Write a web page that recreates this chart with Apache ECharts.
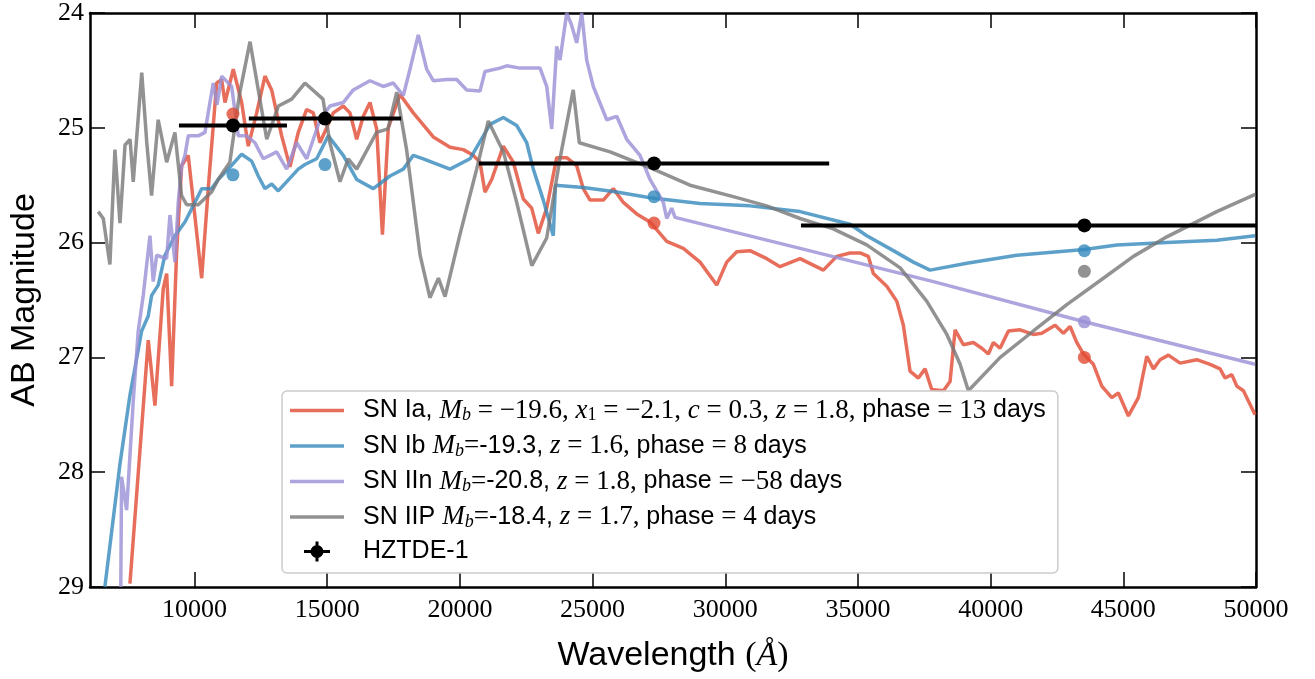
<!DOCTYPE html>
<html>
<head>
<meta charset="utf-8">
<script src="https://cdn.jsdelivr.net/npm/echarts@6/dist/echarts.min.js"></script>
<style>
  html, body { margin: 0; padding: 0; background: #fff; }
  #main { width: 1315px; height: 679px; }
</style>
</head>
<body>
<div id="main"></div>
<script>
// wavelength (Angstrom) and AB magnitude
var iaWave = [7565, 8255, 8507, 8820, 8950, 9137, 9325, 9514, 9763, 10268,
  10516, 10833, 11021, 11146, 11459, 11775, 12024, 12341, 12653, 12906,
  13283, 13596, 13908, 14225, 14474, 14726, 15228, 15604, 15857, 16110,
  16358, 16611, 16863, 17080, 17300, 17742, 18243, 18997, 19626, 20127,
  20504, 20757, 20945, 21198, 21635, 22012, 22389, 22705, 22954, 23271,
  23648, 24025, 24401, 24650, 24903, 25404, 25781, 26158, 26663, 27164,
  27794, 28419, 29049, 29678, 30055, 30432, 30933, 31563, 32064, 32818,
  33696, 34201, 34702, 35079, 35392, 35580, 36085, 36462, 36711, 36963,
  37276, 37529, 37781, 38219, 38471, 38660, 38972, 39349, 39666, 39915,
  40103, 40356, 40669, 41109, 41611, 41927, 42429, 42741, 42994, 43246,
  43495, 43872, 44189, 44565, 44814, 45191, 45568, 45885, 46133, 46386,
  46699, 47140, 47769, 48270, 48647, 48836, 49088, 49277, 49526, 49966];
var iaMag = [28.97, 26.85, 27.42, 26.40, 26.27, 27.25, 26.08, 25.33, 25.24, 26.31,
  25.53, 24.61, 24.58, 24.78, 24.49, 24.78, 25.16, 24.87, 24.55, 24.67,
  25.07, 25.34, 25.04, 24.84, 24.87, 25.13, 24.87, 24.81, 24.87, 25.10,
  24.90, 24.78, 25.01, 25.93, 25.00, 24.71, 24.87, 25.08, 25.17, 25.19,
  25.24, 25.30, 25.56, 25.45, 25.16, 25.30, 25.62, 25.70, 25.92, 25.70,
  25.26, 25.26, 25.33, 25.53, 25.63, 25.63, 25.53, 25.65, 25.75, 25.82,
  25.99, 26.05, 26.17, 26.37, 26.17, 26.08, 26.07, 26.14, 26.21, 26.14,
  26.24, 26.12, 26.09, 26.09, 26.12, 26.27, 26.38, 26.51, 26.72, 27.12,
  27.18, 27.10, 27.28, 27.29, 27.21, 26.76, 26.89, 26.87, 26.92, 26.97,
  26.87, 26.92, 26.77, 26.76, 26.80, 26.79, 26.72, 26.79, 26.73, 26.87,
  26.97, 27.06, 27.25, 27.35, 27.31, 27.51, 27.35, 26.99, 27.10, 27.02,
  26.98, 27.05, 27.02, 27.06, 27.10, 27.18, 27.15, 27.25, 27.29, 27.50];

var ibWave = [6620, 7188, 7565, 7850, 8006, 8255, 8383, 8632, 8884, 9261,
  9638, 10015, 10268, 10644, 10893, 11270, 11775, 12152, 12401, 12653,
  12906, 13155, 13908, 14161, 14602, 15039, 15604, 16110, 16735, 17365,
  17866, 18243, 18620, 19626, 20380, 21134, 21635, 22140, 22517, 22766,
  23142, 23519, 23600, 24650, 25909, 27164, 29049, 30933, 32818, 34702,
  35332, 36334, 37088, 37717, 39101, 40985, 43532, 44754, 46638, 48523, 49966];
var ibMag = [29.0, 27.93, 27.33, 26.97, 26.77, 26.64, 26.46, 26.37, 26.11, 25.94,
  25.82, 25.65, 25.53, 25.53, 25.45, 25.36, 25.23, 25.29, 25.42, 25.53,
  25.49, 25.55, 25.36, 25.32, 25.27, 25.07, 25.24, 25.45, 25.53, 25.42,
  25.36, 25.24, 25.27, 25.36, 25.27, 24.97, 24.91, 24.98, 25.13, 25.36,
  25.63, 25.94, 25.50, 25.52, 25.56, 25.61, 25.66, 25.68, 25.73, 25.84,
  25.94, 26.07, 26.17, 26.24, 26.18, 26.11, 26.06, 26.02, 26.00, 25.98, 25.94];

var iinWave = [7220, 7250, 7440, 7690, 7878, 8066, 8319, 8443, 8572, 8948,
  9073, 9261, 9386, 9514, 9638, 9763, 10139, 10392, 10580, 10705,
  10850, 11021, 11398, 11647, 11964, 12276, 12589, 13094, 13471, 13848,
  14225, 14726, 15103, 15604, 15981, 16611, 17112, 17489, 17866, 18118,
  18431, 18748, 18997, 19502, 19879, 20256, 20757, 20945, 21510, 21763,
  22264, 23018, 23271, 23459, 23648, 23772, 24025, 24200, 24401, 24590,
  24778, 25027, 25532, 25909, 26286, 26787, 27164, 27665, 27794, 27982,
  28106, 32818, 37842, 43532, 49966];
var iinMag = [29.0, 28.04, 28.33, 27.38, 26.77, 26.46, 25.94, 26.34, 26.11, 26.14,
  25.76, 26.17, 25.65, 25.33, 25.24, 25.07, 25.07, 25.04, 24.78, 24.61,
  24.80, 24.55, 24.64, 25.07, 25.07, 25.13, 25.27, 25.21, 25.36, 25.13,
  25.27, 24.93, 24.81, 24.78, 24.67, 24.59, 24.64, 24.61, 24.72, 24.49,
  24.19, 24.49, 24.59, 24.58, 24.58, 24.67, 24.68, 24.51, 24.48, 24.46,
  24.48, 24.48, 24.64, 25.01, 24.29, 24.41, 24.00, 24.10, 24.26, 24.00,
  24.41, 24.64, 24.93, 24.90, 25.10, 25.24, 25.45, 25.65, 25.79, 25.70,
  25.78, 26.05, 26.34, 26.69, 27.06];

var iipWave = [6370, 6560, 6810, 7000, 7190, 7380, 7570, 7690, 8010, 8200,
  8380, 8630, 8950, 9260, 9510, 9700, 10140, 10640, 10890, 11330,
  11700, 12090, 12720, 13160, 13660, 14160, 14840, 15100, 15480, 15790,
  16110, 16860, 17290, 17620, 17990, 18500, 18870, 19190, 19440, 20000,
  20630, 21070, 21640, 22140, 22710, 23270, 23770, 24270, 24500, 25660,
  27290, 28670, 30300, 31560, 32820, 34070, 35330, 36590, 37590, 38350,
  38850, 39160, 40360, 41610, 42870, 44130, 45380, 46640, 48520, 49970];
var iipMag = [25.73, 25.79, 26.19, 25.19, 25.83, 25.15, 25.10, 25.47, 24.52, 25.13,
  25.59, 24.93, 25.30, 25.04, 25.59, 25.67, 25.67, 25.56, 25.45, 25.30,
  24.70, 24.25, 25.10, 24.81, 24.75, 24.61, 24.75, 25.13, 25.47, 25.27,
  25.36, 25.04, 25.01, 24.69, 25.19, 26.11, 26.48, 26.31, 26.47, 25.93,
  25.36, 24.94, 25.21, 25.65, 26.20, 25.96, 25.27, 24.67, 25.13, 25.21,
  25.36, 25.50, 25.60, 25.68, 25.79, 25.88, 26.02, 26.22, 26.51, 26.80,
  27.06, 27.29, 27.00, 26.77, 26.54, 26.33, 26.12, 25.95, 25.73, 25.58];

// HZTDE-1 photometry and the synthetic magnitudes in the same bands
var photWave = [11447, 14915, 27315, 43532];
var photErr = [2035, 2870, 6600, 10680];
var photMag = [24.98, 24.92, 25.31, 25.85];
var synIa = [24.88, null, 25.83, 27.00];
var synIb = [25.41, 25.32, 25.60, 26.07];
var synIIn = [null, null, null, 26.69];
var synIIP = [null, null, null, 26.25];

var xTicks = [10000, 15000, 20000, 25000, 30000, 35000, 40000, 45000, 50000];
var xMin = 6060, xMax = 50000;

var colors = ['#E24A33', '#348ABD', '#988ED5', '#777777'];

function zip(w, m) {
  var out = [];
  for (var i = 0; i < w.length; i++) out.push([w[i], m[i]]);
  return out;
}
function synPoints(m) {
  var out = [];
  for (var i = 0; i < photWave.length; i++) {
    if (m[i] != null) out.push([photWave[i], m[i]]);
  }
  return out;
}

var labels = {
  'Ia': '{g| }{s|SN Ia, }{m|M}{b|b}{r| = −19.6, }{m|x}{n|1}{r| = −2.1, }{m|c}{r| = 0.3, }{m|z}{r| = 1.8, }{s|phase }{r|= 13 }{s|days}',
  'Ib': '{g| }{s|SN Ib }{m|M}{b|b}{r|=}{s|-19.3, }{m|z}{r| = 1.6, }{s|phase }{r|= 8 }{s|days}',
  'IIn': '{g| }{s|SN IIn }{m|M}{b|b}{r|=}{s|-20.8, }{m|z}{r| = 1.8, }{s|phase }{r|= −58 }{s|days}',
  'IIP': '{g| }{s|SN IIP }{m|M}{b|b}{r|=}{s|-18.4, }{m|z}{r| = 1.7, }{s|phase }{r|= 4 }{s|days}',
  'HZTDE-1': '{g| }{s|HZTDE-1}'
};

// legend glyphs: a plain stroke for the models, a dot with error cross for the data
var lineIcon = 'path://M0,0 L54,0 L54,3.5 L0,3.5 Z';
var errIcon = 'path://M0,8.5 L26,8.5 L26,11.5 L0,11.5 Z M11.5,0 L14.5,0 L14.5,20 L11.5,20 Z ' +
  'M6.5,10 A6.5,6.5 0 1,1 19.5,10 A6.5,6.5 0 1,1 6.5,10 Z';

function lineSeries(name, w, m, color) {
  return {
    name: name,
    type: 'line',
    data: zip(w, m),
    showSymbol: false,
    symbol: 'none',
    z: 2,
    lineStyle: { color: color, width: 3.5, opacity: 0.8 },
    itemStyle: { color: color, opacity: 0.8 }
  };
}
function dotSeries(m, color) {
  return {
    type: 'scatter',
    data: synPoints(m),
    symbolSize: 13,
    z: 3,
    itemStyle: { color: color, opacity: 0.8 }
  };
}

var axisLineStyle = { color: '#000', width: 2.5 };
var tickStyle = { color: '#000', width: 1.5 };

var chart = echarts.init(document.getElementById('main'));
chart.setOption({
  animation: false,
  backgroundColor: '#fff',
  grid: { left: 90, right: 59, top: 10, bottom: 92 },
  xAxis: [{
    type: 'value', min: xMin, max: xMax, position: 'bottom',
    axisLine: { lineStyle: axisLineStyle },
    axisTick: { inside: true, length: 15, lineStyle: tickStyle, customValues: xTicks },
    axisLabel: {
      customValues: xTicks, color: '#000', fontFamily: 'Liberation Serif', fontSize: 26, margin: 10,
      formatter: function (v) { return String(v); }
    },
    splitLine: { show: false },
    name: '{s|Wavelength }{p|(}{i|Å}{p|)}',
    nameLocation: 'middle', nameGap: 52,
    nameTextStyle: {
      rich: {
        s: { fontFamily: 'Liberation Sans', fontSize: 34, color: '#000' },
        p: { fontFamily: 'Liberation Serif', fontSize: 34, color: '#000' },
        i: { fontFamily: 'Liberation Serif', fontStyle: 'italic', fontSize: 34, color: '#000' }
      }
    }
  }, {
    type: 'value', min: xMin, max: xMax, position: 'top',
    axisLine: { lineStyle: axisLineStyle },
    axisTick: { inside: true, length: 15, lineStyle: tickStyle, customValues: xTicks },
    axisLabel: { show: false },
    splitLine: { show: false }
  }],
  yAxis: [{
    type: 'value', min: 24, max: 29, interval: 1, inverse: true, position: 'left',
    axisLine: { lineStyle: axisLineStyle },
    axisTick: { inside: true, length: 15, lineStyle: tickStyle },
    axisLabel: { color: '#000', fontFamily: 'Liberation Serif', fontSize: 26, margin: 6 },
    splitLine: { show: false },
    name: 'AB Magnitude', nameLocation: 'middle', nameGap: 48, nameRotate: 90,
    nameTextStyle: { fontFamily: 'Liberation Sans', fontSize: 34, color: '#000' }
  }, {
    type: 'value', min: 24, max: 29, interval: 1, inverse: true, position: 'right',
    axisLine: { lineStyle: axisLineStyle },
    axisTick: { inside: true, length: 15, lineStyle: tickStyle },
    axisLabel: { show: false },
    splitLine: { show: false }
  }],
  legend: {
    orient: 'vertical',
    left: 282, top: 391,
    padding: [6, 12, 9, 8],
    itemWidth: 54, itemHeight: 20, itemGap: 8,
    backgroundColor: 'rgba(255,255,255,0.8)',
    borderColor: '#cccccc', borderWidth: 1.5, borderRadius: 5,
    data: [
      { name: 'Ia', icon: lineIcon },
      { name: 'Ib', icon: lineIcon },
      { name: 'IIn', icon: lineIcon },
      { name: 'IIP', icon: lineIcon },
      { name: 'HZTDE-1', icon: errIcon, itemStyle: { color: '#000', borderWidth: 0 } }
    ],
    formatter: function (name) { return labels[name]; },
    textStyle: {
      color: '#000',
      rich: {
        g: { width: 14 },
        s: { fontFamily: 'Liberation Sans', fontSize: 25, color: '#000', lineHeight: 28 },
        r: { fontFamily: 'Liberation Serif', fontSize: 27, color: '#000', lineHeight: 28 },
        m: { fontFamily: 'Liberation Serif', fontStyle: 'italic', fontSize: 27, color: '#000', lineHeight: 28 },
        b: { fontFamily: 'Liberation Serif', fontStyle: 'italic', fontSize: 18, color: '#000', lineHeight: 14, verticalAlign: 'bottom' },
        n: { fontFamily: 'Liberation Serif', fontSize: 18, color: '#000', lineHeight: 14, verticalAlign: 'bottom' }
      }
    }
  },
  series: [
    lineSeries('Ia', iaWave, iaMag, colors[0]),
    lineSeries('Ib', ibWave, ibMag, colors[1]),
    lineSeries('IIn', iinWave, iinMag, colors[2]),
    lineSeries('IIP', iipWave, iipMag, colors[3]),
    dotSeries(synIa, colors[0]),
    dotSeries(synIb, colors[1]),
    dotSeries(synIIn, colors[2]),
    dotSeries(synIIP, colors[3]),
    {
      name: 'HZTDE-1',
      type: 'custom',
      z: 4,
      itemStyle: { color: '#000' },
      data: photWave.map(function (w, i) { return [w, photMag[i], photErr[i]]; }),
      renderItem: function (params, api) {
        var x = api.value(0), y = api.value(1), e = api.value(2);
        var lo = api.coord([Math.max(x - e, xMin), y]);
        var hi = api.coord([Math.min(x + e, xMax), y]);
        var c = api.coord([x, y]);
        return {
          type: 'group',
          children: [
            { type: 'line', shape: { x1: lo[0], y1: lo[1], x2: hi[0], y2: hi[1] }, style: { stroke: '#000', lineWidth: 4 } },
            { type: 'circle', shape: { cx: c[0], cy: c[1], r: 7 }, style: { fill: '#000' } }
          ]
        };
      }
    }
  ]
});
</script>
</body>
</html>
